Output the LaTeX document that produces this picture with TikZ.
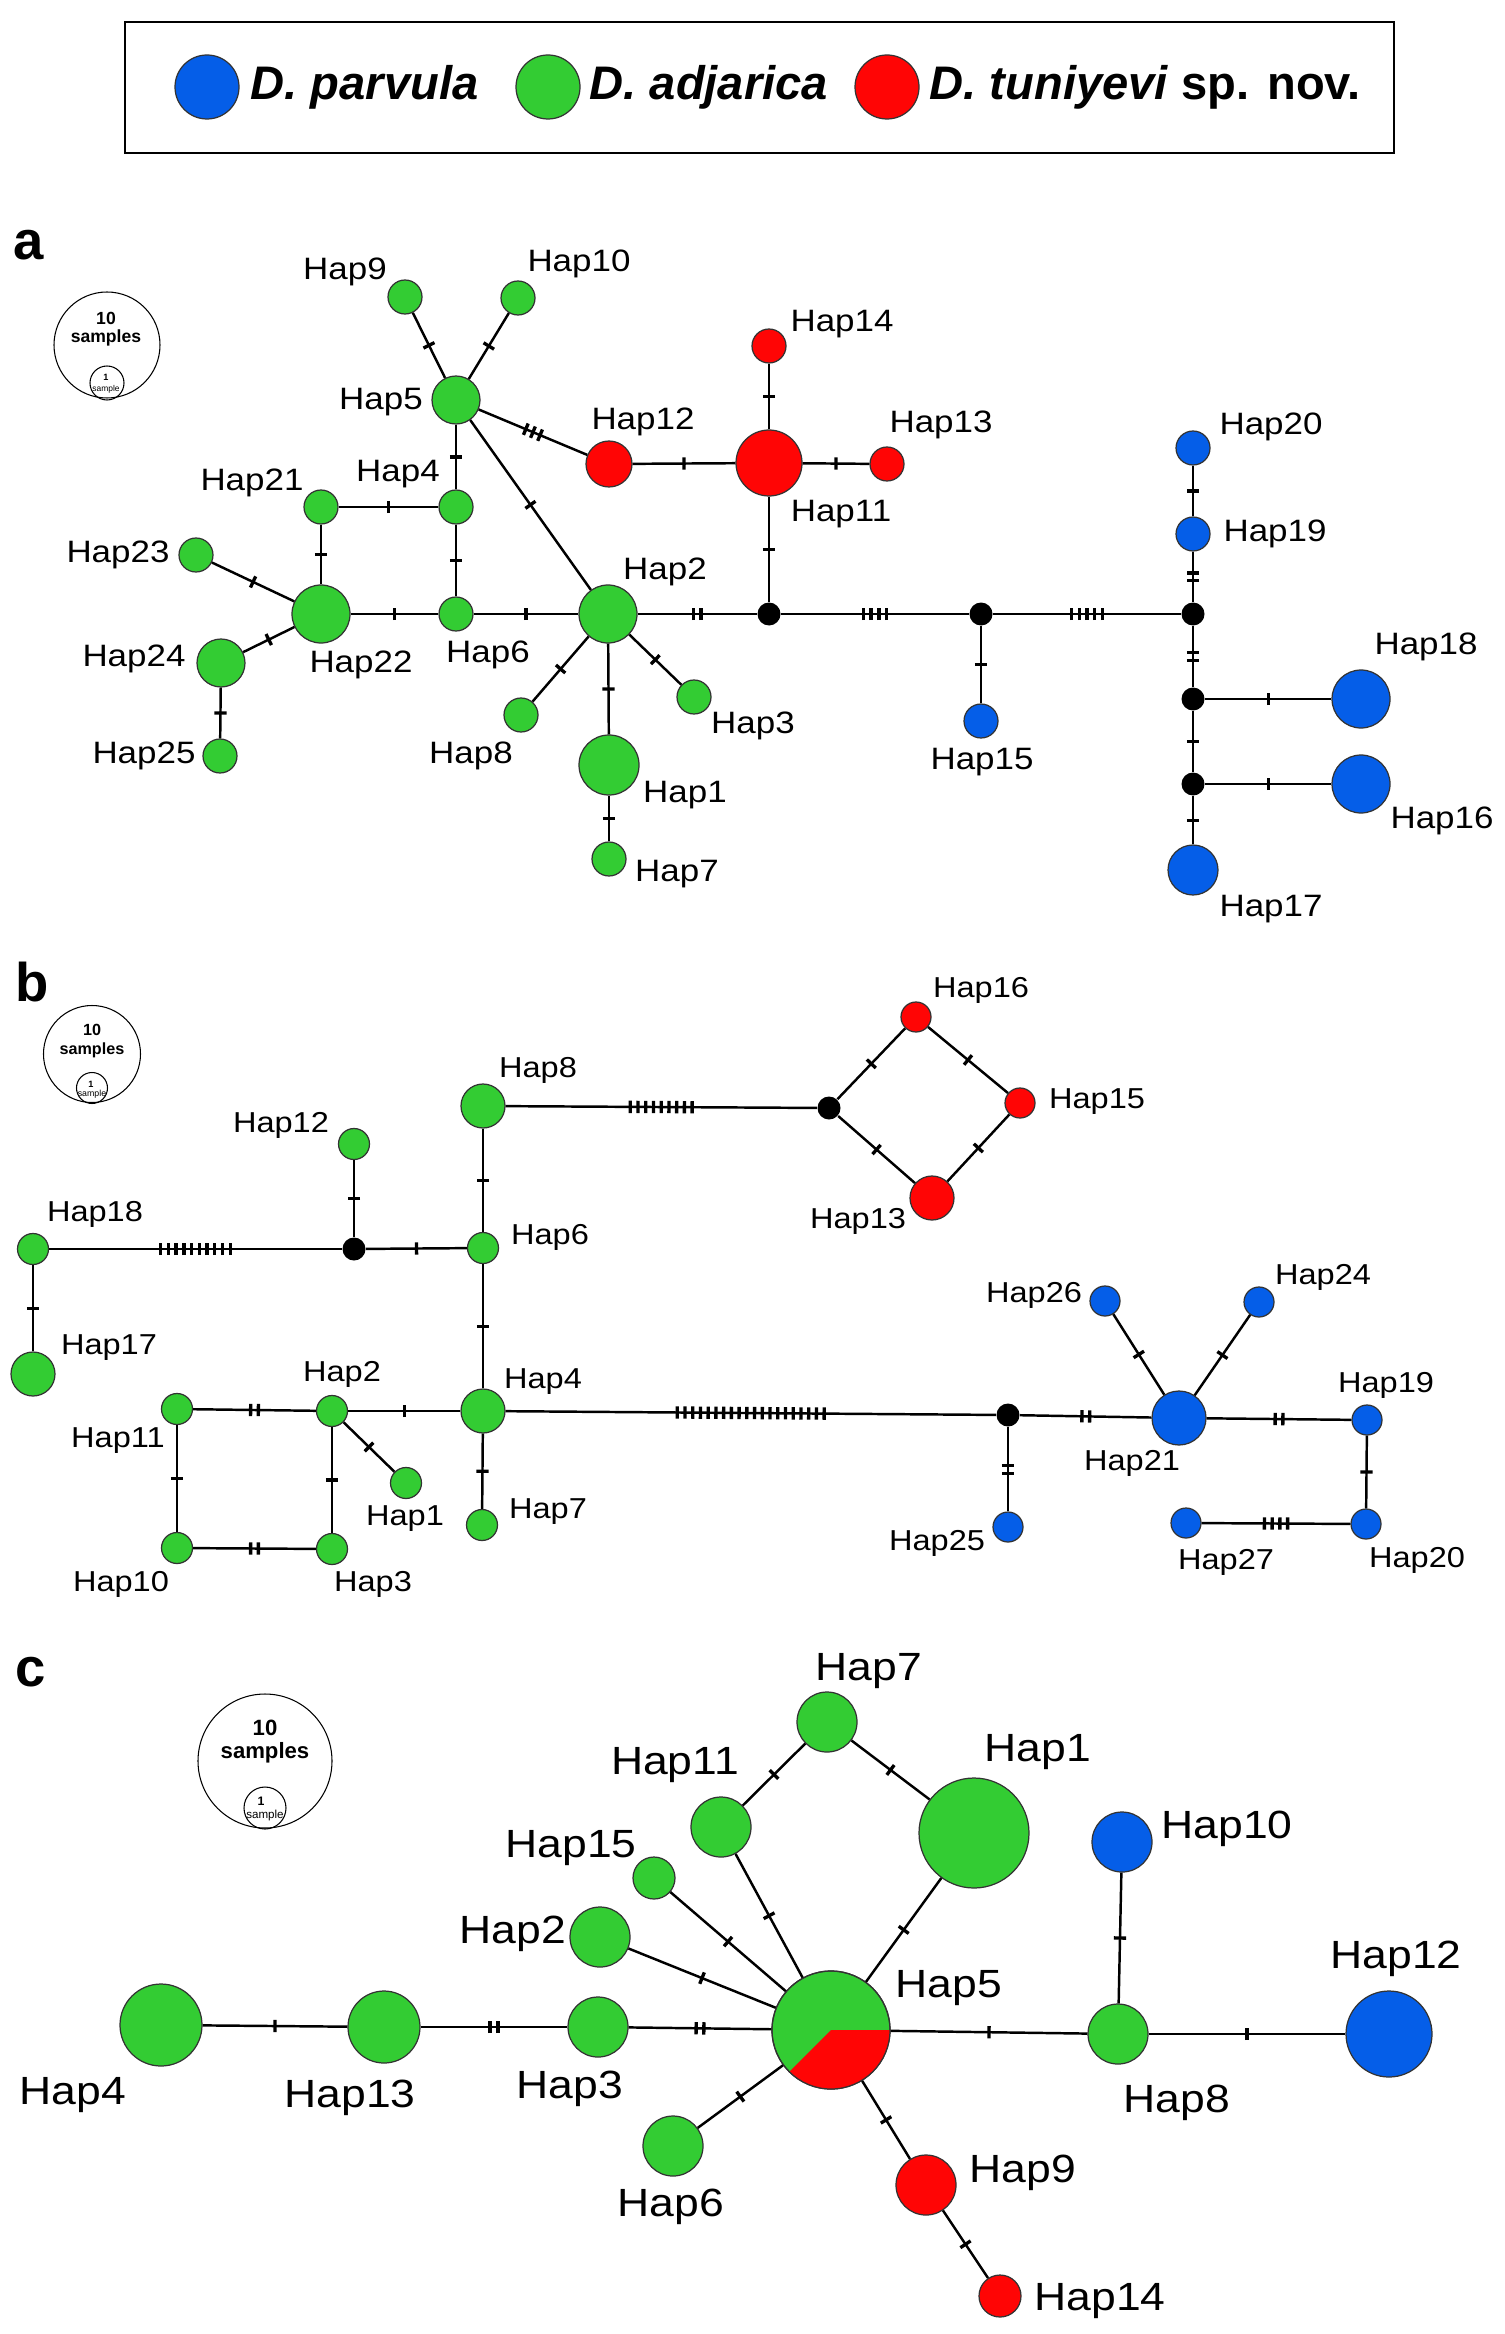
\documentclass[tikz,border=0pt]{standalone}
\usepackage{fontspec}
\setmainfont{Liberation Sans}
\newfontfamily\hapfont[FakeStretch=1.13]{Liberation Sans}
\usetikzlibrary{decorations.markings}
\definecolor{cpar}{RGB}{5,94,232}
\definecolor{cadj}{RGB}{51,204,51}
\definecolor{ctun}{RGB}{255,5,5}

\begin{document}
\begin{tikzpicture}[x=0.1mm, y=0.1mm,
  hap/.style={circle, draw=black!80, line width=0.35pt, inner sep=0pt, minimum size={2*#1*0.1mm}},
  adj/.style={hap=#1, fill=cadj},
  parv/.style={hap=#1, fill=cpar},
  tuni/.style={hap=#1, fill=ctun},
  med/.style={circle, fill=black, inner sep=0pt, minimum size=2.3mm},
  ring/.style={circle, draw, line width=0.3pt, inner sep=0pt, minimum size={2*#1*0.1mm}},
  lbl/.style={font=\hapfont\fontsize{#1}{#1}\selectfont, inner sep=0pt},
  smp/.style={font=\bfseries\fontsize{#1}{#1}\selectfont, inner sep=0pt},
  smq/.style={font=\fontsize{#1}{#1}\selectfont, inner sep=0pt},
  panel/.style={font=\bfseries\fontsize{15.5}{16}\selectfont, inner sep=0pt},
  spec/.style={font=\bfseries\fontsize{13.4}{14}\selectfont, anchor=base west, inner sep=0pt},
  mut/.style={postaction={decorate, decoration={markings, mark=at position 0.5 with
    {\foreach \k in {1,...,#1} {\draw[line width=0.95pt] ({(\k-(#1+1)/2)*2.2pt},-1.75pt) -- ++(0,3.5pt);}}}}},
  lnk/.style={line width=0.7pt, mut=#1}]
  \useasboundingbox (0,0) rectangle (1504,-2334);

  % legend
  \draw[line width=0.6pt] (125,-22) rectangle (1394,-153);
  \node[parv=32] (legpar) at (207,-87) {};
  \node[spec] (legpartxt) at (250,-100) {\itshape D. parvula};
  \node[adj=32] (legadj) at (548,-87) {};
  \node[spec] (legadjtxt) at (589,-100) {\itshape D. adjarica};
  \node[tuni=32] (legtun) at (887,-87) {};
  \node[spec] (legtuntxt) at (929,-100) {\textit{D. tuniyevi} sp. nov.};

  % panel a
  \node[panel] (pa) at (29,-245) {a};
  \node[ring=53] (aring) at (107,-345) {};
  \node[ring=17] (arings) at (107,-383) {};
  \node[smp=5] (aten) at (106,-318) {10};
  \node[smp=5] (atens) at (106,-338) {samples};
  \node[smp=2.6] (aone) at (106,-377) {1};
  \node[smq=2.4] (aones) at (106,-389) {sample};

  \node[adj=17] (a9) at (405,-297) {};
  \node[adj=17] (a10) at (518,-298) {};
  \node[adj=24] (a5) at (456,-400) {};
  \node[tuni=23] (a12) at (609,-464) {};
  \node[adj=17] (a21) at (321,-507) {};
  \node[adj=17] (a4) at (456,-507) {};
  \node[adj=17] (a23) at (196,-555) {};
  \node[adj=29] (a22) at (321,-614) {};
  \node[adj=17] (a6) at (456,-614) {};
  \node[adj=29] (a2) at (608,-614) {};
  \node[adj=24] (a24) at (221,-663) {};
  \node[adj=17] (a25) at (220,-756) {};
  \node[adj=17] (a8) at (521,-715) {};
  \node[adj=30] (a1) at (609,-765) {};
  \node[adj=17] (a7) at (609,-859) {};
  \node[adj=17] (a3) at (694,-697) {};
  \node[tuni=17] (a14) at (769,-346) {};
  \node[tuni=33] (a11) at (769,-463) {};
  \node[tuni=17] (a13) at (887,-464) {};
  \node[med] (am1) at (769,-614) {};
  \node[med] (am2) at (981,-614) {};
  \node[med] (am3) at (1193,-614) {};
  \node[parv=17] (a15) at (981,-721) {};
  \node[parv=17] (a20) at (1193,-448) {};
  \node[parv=17] (a19) at (1193,-534) {};
  \node[med] (am4) at (1193,-699) {};
  \node[med] (am5) at (1193,-784) {};
  \node[parv=29] (a18) at (1361,-699) {};
  \node[parv=29] (a16) at (1361,-784) {};
  \node[parv=25] (a17) at (1193,-870) {};

  \node[lbl=8.8] (a9l) at (345,-272) {Hap9};
  \node[lbl=8.8] (a10l) at (579,-264) {Hap10};
  \node[lbl=8.8] (a5l) at (381,-402) {Hap5};
  \node[lbl=8.8] (a12l) at (643,-422) {Hap12};
  \node[lbl=8.8] (a21l) at (252,-483) {Hap21};
  \node[lbl=8.8] (a4l) at (398,-474) {Hap4};
  \node[lbl=8.8] (a23l) at (118,-555) {Hap23};
  \node[lbl=8.8] (a22l) at (361,-665) {Hap22};
  \node[lbl=8.8] (a6l) at (488,-655) {Hap6};
  \node[lbl=8.8] (a2l) at (665,-572) {Hap2};
  \node[lbl=8.8] (a24l) at (134,-659) {Hap24};
  \node[lbl=8.8] (a25l) at (144,-756) {Hap25};
  \node[lbl=8.8] (a8l) at (471,-756) {Hap8};
  \node[lbl=8.8] (a1l) at (685,-795) {Hap1};
  \node[lbl=8.8] (a7l) at (677,-874) {Hap7};
  \node[lbl=8.8] (a3l) at (753,-726) {Hap3};
  \node[lbl=8.8] (a14l) at (842,-324) {Hap14};
  \node[lbl=8.8] (a11l) at (841,-514) {Hap11};
  \node[lbl=8.8] (a13l) at (941,-425) {Hap13};
  \node[lbl=8.8] (a15l) at (982,-762) {Hap15};
  \node[lbl=8.8] (a20l) at (1271,-427) {Hap20};
  \node[lbl=8.8] (a19l) at (1275,-534) {Hap19};
  \node[lbl=8.8] (a18l) at (1426,-647) {Hap18};
  \node[lbl=8.8] (a16l) at (1442,-821) {Hap16};
  \node[lbl=8.8] (a17l) at (1271,-909) {Hap17};

  \draw[lnk=1] (a5) -- (a9);
  \draw[lnk=1] (a5) -- (a10);
  \draw[lnk=3] (a5) -- (a12);
  \draw[lnk=1] (a5) -- (a4);
  \draw[lnk=1] (a5) -- (a2);
  \draw[lnk=1] (a12) -- (a11);
  \draw[lnk=1] (a11) -- (a14);
  \draw[lnk=1] (a11) -- (a13);
  \draw[lnk=1] (a11) -- (am1);
  \draw[lnk=1] (a21) -- (a4);
  \draw[lnk=1] (a4) -- (a6);
  \draw[lnk=1] (a21) -- (a22);
  \draw[lnk=1] (a23) -- (a22);
  \draw[lnk=1] (a24) -- (a22);
  \draw[lnk=1] (a24) -- (a25);
  \draw[lnk=1] (a22) -- (a6);
  \draw[lnk=1] (a6) -- (a2);
  \draw[lnk=2] (a2) -- (am1);
  \draw[lnk=1] (a2) -- (a8);
  \draw[lnk=1] (a2) -- (a1);
  \draw[lnk=1] (a2) -- (a3);
  \draw[lnk=1] (a1) -- (a7);
  \draw[lnk=4] (am1) -- (am2);
  \draw[lnk=1] (am2) -- (a15);
  \draw[lnk=5] (am2) -- (am3);
  \draw[lnk=2] (am3) -- (a19);
  \draw[lnk=1] (a19) -- (a20);
  \draw[lnk=2] (am3) -- (am4);
  \draw[lnk=1] (am4) -- (a18);
  \draw[lnk=1] (am4) -- (am5);
  \draw[lnk=1] (am5) -- (a16);
  \draw[lnk=1] (am5) -- (a17);

  % panel b
  \node[panel] (pb) at (32,-982) {b};
  \node[ring=48.5] (bring) at (92,-1054) {};
  \node[ring=15.5] (brings) at (92,-1088) {};
  \node[smp=4.6] (bten) at (92,-1030) {10};
  \node[smp=4.6] (btens) at (92,-1050) {samples};
  \node[smp=2.6] (bone) at (91,-1084) {1};
  \node[smq=2.5] (bones) at (92,-1094) {sample};

  \node[adj=22] (b8) at (483,-1106) {};
  \node[adj=15.5] (b12) at (354,-1144) {};
  \node[med] (bm1) at (354,-1249) {};
  \node[adj=15.5] (b6) at (483,-1248) {};
  \node[adj=15.5] (b18) at (33,-1249) {};
  \node[adj=22] (b17) at (33,-1374) {};
  \node[adj=22] (b4) at (483,-1411) {};
  \node[adj=15.5] (b2) at (332,-1411) {};
  \node[adj=15.5] (b11) at (177,-1409) {};
  \node[adj=15.5] (b1) at (406,-1483) {};
  \node[adj=15.5] (b7) at (482,-1525) {};
  \node[adj=15.5] (b10) at (177,-1548) {};
  \node[adj=15.5] (b3) at (332,-1549) {};
  \node[med] (bm2) at (829,-1108) {};
  \node[tuni=15] (b16) at (916,-1017) {};
  \node[tuni=15] (b15) at (1020,-1103) {};
  \node[tuni=22] (b13) at (932,-1198) {};
  \node[med] (bm3) at (1008,-1415) {};
  \node[parv=15] (b25) at (1008,-1527) {};
  \node[parv=27] (b21) at (1179,-1418) {};
  \node[parv=15] (b26) at (1105,-1301) {};
  \node[parv=15] (b24) at (1259,-1302) {};
  \node[parv=15] (b19) at (1367,-1420) {};
  \node[parv=15] (b20) at (1366,-1524) {};
  \node[parv=15] (b27) at (1186,-1523) {};

  \node[lbl=8.2] (b8l) at (538,-1070) {Hap8};
  \node[lbl=8.2] (b12l) at (281,-1125) {Hap12};
  \node[lbl=8.2] (b6l) at (550,-1237) {Hap6};
  \node[lbl=8.2] (b18l) at (95,-1214) {Hap18};
  \node[lbl=8.2] (b17l) at (109,-1348) {Hap17};
  \node[lbl=8.2] (b4l) at (543,-1382) {Hap4};
  \node[lbl=8.2] (b2l) at (342,-1374) {Hap2};
  \node[lbl=8.2] (b11l) at (118,-1441) {Hap11};
  \node[lbl=8.2] (b1l) at (405,-1519) {Hap1};
  \node[lbl=8.2] (b7l) at (548,-1512) {Hap7};
  \node[lbl=8.2] (b10l) at (121,-1584) {Hap10};
  \node[lbl=8.2] (b3l) at (373,-1584) {Hap3};
  \node[lbl=8.2] (b16l) at (981,-990) {Hap16};
  \node[lbl=8.2] (b15l) at (1097,-1102) {Hap15};
  \node[lbl=8.2] (b13l) at (858,-1221) {Hap13};
  \node[lbl=8.2] (b25l) at (937,-1543) {Hap25};
  \node[lbl=8.2] (b21l) at (1132,-1463) {Hap21};
  \node[lbl=8.2] (b26l) at (1034,-1295) {Hap26};
  \node[lbl=8.2] (b24l) at (1323,-1277) {Hap24};
  \node[lbl=8.2] (b19l) at (1386,-1385) {Hap19};
  \node[lbl=8.2] (b20l) at (1417,-1560) {Hap20};
  \node[lbl=8.2] (b27l) at (1226,-1562) {Hap27};

  \draw[lnk=10] (b18) -- (bm1);
  \draw[lnk=1] (bm1) -- (b12);
  \draw[lnk=1] (bm1) -- (b6);
  \draw[lnk=1] (b6) -- (b8);
  \draw[lnk=1] (b6) -- (b4);
  \draw[lnk=9] (b8) -- (bm2);
  \draw[lnk=1] (bm2) -- (b16);
  \draw[lnk=1] (b16) -- (b15);
  \draw[lnk=1] (bm2) -- (b13);
  \draw[lnk=1] (b13) -- (b15);
  \draw[lnk=1] (b18) -- (b17);
  \draw[lnk=2] (b11) -- (b2);
  \draw[lnk=1] (b2) -- (b4);
  \draw[lnk=1] (b2) -- (b1);
  \draw[lnk=1] (b2) -- (b3);
  \draw[lnk=1] (b11) -- (b10);
  \draw[lnk=2] (b10) -- (b3);
  \draw[lnk=1] (b4) -- (b7);
  \draw[lnk=20] (b4) -- (bm3);
  \draw[lnk=2] (bm3) -- (b25);
  \draw[lnk=2] (bm3) -- (b21);
  \draw[lnk=1] (b21) -- (b26);
  \draw[lnk=1] (b21) -- (b24);
  \draw[lnk=2] (b21) -- (b19);
  \draw[lnk=1] (b19) -- (b20);
  \draw[lnk=4] (b20) -- (b27);

  % panel c
  \node[panel] (pc) at (31,-1672) {c};
  \node[ring=67] (cring) at (265,-1761) {};
  \node[ring=21] (crings) at (265,-1808) {};
  \node[smp=6.3] (cten) at (265,-1728) {10};
  \node[smp=6.3] (ctens) at (265,-1753) {samples};
  \node[smp=3.5] (cone) at (261,-1801) {1};
  \node[smq=3.3] (cones) at (265,-1815) {sample};

  \node[adj=41] (c4) at (161,-2025) {};
  \node[adj=36] (c13) at (384,-2027) {};
  \node[adj=30] (c3) at (598,-2027) {};
  \node[adj=59] (c5) at (831,-2030) {};
  \fill[ctun] (c5.center) -- ++(0:59) arc[start angle=0, end angle=-135, radius=59] -- cycle;
  \draw[draw=black!80, line width=0.35pt] (c5.center) circle[radius=59];
  \node[adj=30] (c2) at (600,-1937) {};
  \node[adj=21] (c15) at (654,-1878) {};
  \node[adj=30] (c11) at (721,-1827) {};
  \node[adj=30] (c7) at (827,-1722) {};
  \node[adj=30] (c6) at (673,-2146) {};
  \node[adj=55] (c1) at (974,-1833) {};
  \node[parv=30] (c10) at (1122,-1842) {};
  \node[adj=30] (c8) at (1118,-2034) {};
  \node[parv=43] (c12) at (1389,-2034) {};
  \node[tuni=30] (c9) at (926,-2185) {};
  \node[tuni=21] (c14) at (1000,-2296) {};

  \node[lbl=11.2] (c4l) at (73,-2095) {Hap4};
  \node[lbl=11.2] (c13l) at (350,-2098) {Hap13};
  \node[lbl=11.2] (c3l) at (570,-2089) {Hap3};
  \node[lbl=11.2] (c5l) at (949,-1988) {Hap5};
  \node[lbl=11.2] (c2l) at (513,-1934) {Hap2};
  \node[lbl=11.2] (c15l) at (571,-1848) {Hap15};
  \node[lbl=11.2] (c11l) at (675,-1765) {Hap11};
  \node[lbl=11.2] (c7l) at (869,-1671) {Hap7};
  \node[lbl=11.2] (c6l) at (671,-2207) {Hap6};
  \node[lbl=11.2] (c1l) at (1038,-1752) {Hap1};
  \node[lbl=11.2] (c10l) at (1227,-1829) {Hap10};
  \node[lbl=11.2] (c8l) at (1177,-2103) {Hap8};
  \node[lbl=11.2] (c12l) at (1396,-1959) {Hap12};
  \node[lbl=11.2] (c9l) at (1023,-2173) {Hap9};
  \node[lbl=11.2] (c14l) at (1100,-2301) {Hap14};

  \draw[lnk=1] (c4) -- (c13);
  \draw[lnk=2] (c13) -- (c3);
  \draw[lnk=2] (c3) -- (c5);
  \draw[lnk=1] (c2) -- (c5);
  \draw[lnk=1] (c15) -- (c5);
  \draw[lnk=1] (c11) -- (c5);
  \draw[lnk=1] (c11) -- (c7);
  \draw[lnk=1] (c7) -- (c1);
  \draw[lnk=1] (c1) -- (c5);
  \draw[lnk=1] (c6) -- (c5);
  \draw[lnk=1] (c5) -- (c9);
  \draw[lnk=1] (c9) -- (c14);
  \draw[lnk=1] (c5) -- (c8);
  \draw[lnk=1] (c8) -- (c10);
  \draw[lnk=1] (c8) -- (c12);
\end{tikzpicture}
\end{document}
